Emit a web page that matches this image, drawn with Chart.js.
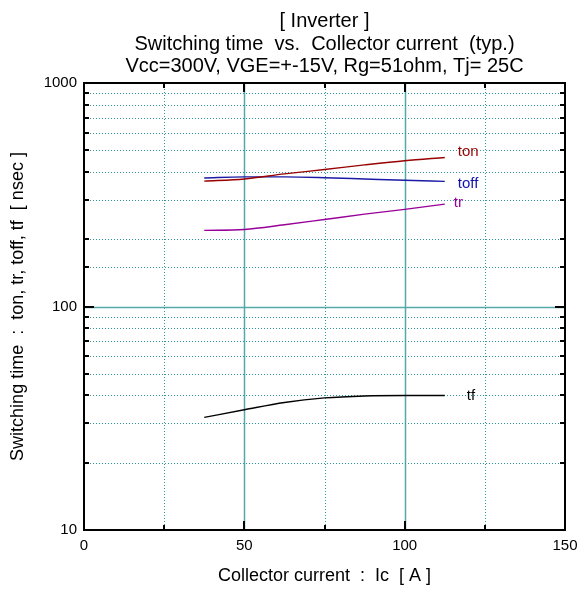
<!DOCTYPE html>
<html>
<head>
<meta charset="utf-8">
<title>Switching time vs. Collector current</title>
<script src="https://cdn.jsdelivr.net/npm/chart.js@4.4.1/dist/chart.umd.min.js"></script>
<style>
  html, body { margin: 0; padding: 0; background: #fff; }
  #wrap { width: 580px; height: 589px; }
</style>
</head>
<body>
<div id="wrap"><canvas id="chart" width="580" height="589"></canvas></div>
<script>
(function () {
  'use strict';

  // values
  const IC = [37.5, 50, 62.5, 75, 87.5, 100, 112.5];
  const TON = [364, 372, 392, 410, 430, 449, 464];
  const TOFF = [376, 380, 380, 377, 372, 367, 363];
  const TR = [219, 221, 232, 245, 259, 272, 287];
  const TF = [31.9, 34.5, 37.2, 39.0, 39.8, 40, 40];

  const X_TICKS = [0, 50, 100, 150];
  const Y_TICKS = [10, 100, 1000];
  const X_MAJOR = [50, 100];
  const Y_MAJOR = [100];

  const TITLE = [
    '[ Inverter ]',
    'Switching time  vs.  Collector current  (typ.)',
    'Vcc=300V, VGE=+-15V, Rg=51ohm, Tj= 25C'
  ];

  const FONT = "'Liberation Sans', Arial, Helvetica, sans-serif";
  const GRID = '#2f9a9a';
  const GRID_MAJOR = '#55a9a9';

  function pts(ys) {
    return IC.map(function (x, i) { return { x: x, y: ys[i] }; });
  }

  function series(label, ys, color) {
    return {
      label: label,
      data: pts(ys),
      borderColor: color,
      backgroundColor: color,
      borderWidth: 1.4,
      pointRadius: 0,
      cubicInterpolationMode: 'monotone',
      fill: false,
    };
  }

  const SERIES_LABELS = [
    { text: 'ton', color: '#990000', dx: 13, dy: -6 },
    { text: 'toff', color: '#1010b0', dx: 13, dy: 2 },
    { text: 'tr', color: '#990099', dx: 9, dy: -1 },
    { text: 'tf', color: '#000000', dx: 22, dy: 0 },
  ];

  const frame = {
    id: 'frame',
    beforeDatasetsDraw: function (chart) {
      const ctx = chart.ctx, a = chart.chartArea;
      const xs = chart.scales.x, ys = chart.scales.y;
      ctx.save();
      xs.ticks.forEach(function (t) {
        if (t.value <= xs.min || t.value >= xs.max) return;
        const major = X_MAJOR.indexOf(t.value) >= 0;
        const px = Math.round(xs.getPixelForValue(t.value)) + 0.5;
        ctx.strokeStyle = major ? GRID_MAJOR : GRID;
        ctx.lineWidth = major ? 1.5 : 1;
        ctx.setLineDash(major ? [] : [1, 2]);
        ctx.beginPath(); ctx.moveTo(px, a.top); ctx.lineTo(px, a.bottom); ctx.stroke();
      });
      ys.ticks.forEach(function (t) {
        if (t.value <= ys.min || t.value >= ys.max) return;
        const major = Y_MAJOR.indexOf(t.value) >= 0;
        const py = Math.round(ys.getPixelForValue(t.value)) + 0.5;
        ctx.strokeStyle = major ? GRID_MAJOR : GRID;
        ctx.lineWidth = major ? 1.5 : 1;
        ctx.setLineDash(major ? [] : [1, 2]);
        ctx.beginPath(); ctx.moveTo(a.left, py); ctx.lineTo(a.right, py); ctx.stroke();
      });
      ctx.restore();
    },
    afterDatasetsDraw: function (chart) {
      const ctx = chart.ctx, a = chart.chartArea;
      const xs = chart.scales.x, ys = chart.scales.y;
      ctx.save();
      ctx.strokeStyle = '#000';
      ctx.lineWidth = 2;
      ctx.setLineDash([]);
      xs.ticks.forEach(function (t) {
        const px = Math.round(xs.getPixelForValue(t.value));
        const len = X_MAJOR.indexOf(t.value) >= 0 ? 9 : 5;
        ctx.beginPath();
        ctx.moveTo(px, a.bottom); ctx.lineTo(px, a.bottom - len);
        ctx.moveTo(px, a.top); ctx.lineTo(px, a.top + len);
        ctx.stroke();
      });
      ys.ticks.forEach(function (t) {
        const py = Math.round(ys.getPixelForValue(t.value));
        const len = Y_MAJOR.indexOf(t.value) >= 0 ? 10 : 5;
        ctx.beginPath();
        ctx.moveTo(a.left, py); ctx.lineTo(a.left + len, py);
        ctx.moveTo(a.right, py); ctx.lineTo(a.right - len, py);
        ctx.stroke();
      });
      ctx.strokeRect(a.left, a.top, a.right - a.left, a.bottom - a.top);
      ctx.restore();
    },
    afterDraw: function (chart) {
      const ctx = chart.ctx, a = chart.chartArea;
      const xs = chart.scales.x, ys = chart.scales.y;
      ctx.save();
      ctx.fillStyle = '#000';
      ctx.textAlign = 'center';
      ctx.textBaseline = 'alphabetic';
      ctx.font = '20px ' + FONT;
      const cx = (a.left + a.right) / 2;
      TITLE.forEach(function (line, i) {
        ctx.fillText(line, cx, 27 + i * 22.5);
      });
      ctx.font = '15px ' + FONT;
      ctx.textAlign = 'left';
      ctx.textBaseline = 'middle';
      chart.data.datasets.forEach(function (ds, i) {
        const lab = SERIES_LABELS[i];
        const last = ds.data[ds.data.length - 1];
        ctx.fillStyle = lab.color;
        ctx.fillText(lab.text, xs.getPixelForValue(last.x) + lab.dx, ys.getPixelForValue(last.y) + lab.dy);
      });
      ctx.restore();
    },
  };

  new Chart(document.getElementById('chart'), {
    type: 'line',
    data: {
      datasets: [
        series('ton', TON, '#990000'),
        series('toff', TOFF, '#1a1aa6'),
        series('tr', TR, '#990099'),
        series('tf', TF, '#000000'),
      ],
    },
    options: {
      responsive: false,
      animation: false,
      events: [],
      layout: { padding: { top: 83, right: 15, left: 0, bottom: 0 } },
      plugins: {
        legend: { display: false },
        title: { display: false },
        tooltip: { enabled: false },
      },
      scales: {
        x: {
          type: 'linear',
          min: 0,
          max: 150,
          ticks: {
            stepSize: 25,
            autoSkip: false,
            maxRotation: 0,
            padding: 7,
            color: '#000',
            font: { family: FONT, size: 15 },
            callback: function (v) { return X_TICKS.indexOf(v) >= 0 ? String(v) : ''; },
          },
          grid: { display: false, drawTicks: false },
          border: { display: false },
          title: {
            display: true,
            text: 'Collector current  :  Ic  [ A ]',
            color: '#000',
            font: { family: FONT, size: 18 },
            padding: { top: 0, bottom: 2 },
          },
          afterFit: function (s) {
            s.height = 59;
            s.paddingLeft = 0;
            s.paddingRight = 0;
          },
        },
        y: {
          type: 'logarithmic',
          min: 10,
          max: 1000,
          ticks: {
            autoSkip: false,
            padding: 7,
            color: '#000',
            font: { family: FONT, size: 15 },
            callback: function (v) { return Y_TICKS.indexOf(v) >= 0 ? String(v) : ''; },
          },
          grid: { display: false, drawTicks: false },
          border: { display: false },
          title: {
            display: true,
            text: 'Switching time  :  ton, tr, toff, tf  [ nsec ]',
            color: '#000',
            font: { family: FONT, size: 18 },
            padding: { top: 7, bottom: 0 },
          },
          afterFit: function (s) {
            s.width = 84;
            s.paddingTop = 0;
            s.paddingBottom = 0;
          },
        },
      },
    },
    plugins: [frame],
  });
})();
</script>
</body>
</html>
